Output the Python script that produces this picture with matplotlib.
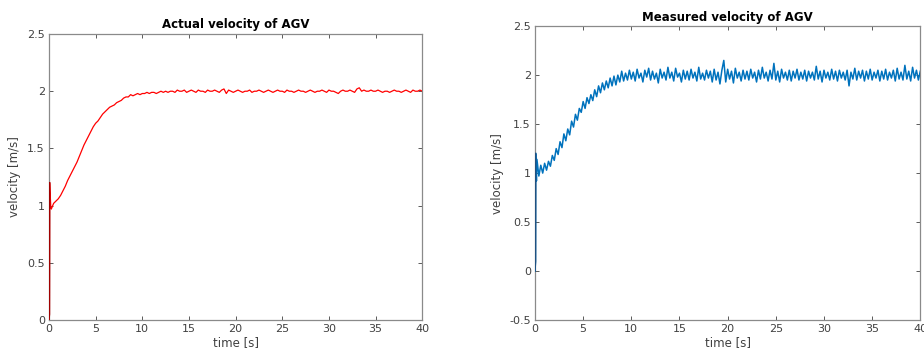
import numpy as np
import matplotlib.pyplot as plt
from matplotlib.ticker import FuncFormatter

# actual velocity (red) - start transient, then 0.25 s samples from 0.25 s to 40 s
act_t0 = [0.0, 0.05, 0.07, 0.12, 0.2]
act_v0 = [0.0, 0.05, 1.20, 1.12, 0.98]
act_dt = 0.25
act_v = [
    0.97, 1.02, 1.04, 1.06, 1.09, 1.13, 1.17, 1.22,
    1.26, 1.30, 1.34, 1.38, 1.43, 1.48, 1.53, 1.57,
    1.61, 1.65, 1.69, 1.72, 1.74, 1.77, 1.80, 1.82,
    1.84, 1.86, 1.87, 1.88, 1.90, 1.91, 1.92, 1.94,
    1.95, 1.95, 1.97, 1.96, 1.97, 1.98, 1.97, 1.98,
    1.98, 1.99, 1.98, 1.99, 1.99, 1.98, 1.99, 2.00,
    1.99, 2.00, 1.99, 2.00, 2.00, 1.99, 2.01, 2.00,
    2.00, 2.01, 1.99, 2.00, 2.01, 2.00, 1.99, 2.01,
    2.00, 2.00, 1.99, 2.01, 2.00, 2.00, 2.01, 2.00,
    1.99, 2.01, 2.02, 1.98, 2.01, 2.00, 1.99, 2.00,
    2.01, 2.00, 1.99, 2.00, 2.00, 2.01, 1.99, 2.00,
    2.00, 2.01, 2.00, 1.99, 2.00, 2.01, 2.00, 1.99,
    2.00, 2.01, 2.00, 2.00, 1.99, 2.01, 2.00, 2.00,
    1.99, 2.00, 2.01, 2.00, 2.00, 1.99, 2.00, 2.01,
    2.00, 1.99, 2.00, 2.00, 2.01, 2.00, 1.99, 2.01,
    2.00, 2.00, 1.99, 1.98, 2.00, 2.01, 2.00, 2.00,
    2.01, 2.00, 1.99, 2.02, 2.03, 2.00, 2.01, 2.00,
    2.00, 2.01, 2.00, 2.00, 2.01, 2.00, 1.99, 2.00,
    2.00, 1.99, 2.00, 2.01, 2.00, 2.00, 1.99, 2.00,
    2.01, 2.00, 1.99, 2.01, 2.00, 2.00, 2.01, 2.00,
]

# measured velocity (blue) - start transient, then 0.2 s samples from 0.2 s to 40 s
meas_t0 = [0.0, 0.05, 0.07, 0.10, 0.15]
meas_v0 = [0.0, 0.10, 1.20, 1.05, 0.92]
meas_dt = 0.2
meas_v = [
    1.14, 0.97, 1.08, 1.00, 1.10, 1.03, 1.12, 1.07, 1.18, 1.13,
    1.25, 1.19, 1.32, 1.26, 1.40, 1.33, 1.45, 1.39, 1.53, 1.47,
    1.60, 1.54, 1.66, 1.62, 1.73, 1.66, 1.77, 1.71, 1.80, 1.74,
    1.85, 1.78, 1.89, 1.82, 1.92, 1.85, 1.94, 1.87, 1.97, 1.89,
    1.99, 1.90, 2.00, 1.93, 2.04, 1.94, 2.02, 1.95, 2.05, 1.96,
    2.03, 1.94, 2.06, 1.97, 2.02, 1.93, 2.05, 1.98, 2.07, 1.95,
    2.04, 1.96, 2.02, 1.92, 2.06, 1.97, 2.03, 1.95, 2.08, 1.97,
    2.03, 1.94, 2.07, 1.98, 2.02, 1.93, 2.05, 1.96, 2.04, 1.95,
    2.06, 1.97, 2.03, 1.94, 2.08, 1.96, 2.02, 1.95, 2.05, 1.97,
    2.04, 1.93, 2.06, 1.95, 2.03, 1.91, 2.05, 2.15, 1.93, 2.06,
    1.96, 2.04, 1.92, 2.07, 1.97, 2.03, 1.94, 2.05, 1.96, 2.04,
    1.95, 2.06, 1.97, 2.03, 1.93, 2.05, 1.96, 2.08, 1.97, 2.03,
    1.94, 2.05, 1.96, 2.12, 1.95, 2.04, 1.93, 2.06, 1.97, 2.03,
    1.95, 2.05, 1.94, 2.04, 1.97, 2.06, 1.95, 2.03, 1.96, 2.05,
    1.94, 2.04, 1.97, 2.03, 1.95, 2.09, 1.96, 2.04, 1.93, 2.05,
    1.97, 2.03, 1.95, 2.06, 1.96, 2.04, 1.94, 2.05, 1.97, 2.03,
    1.95, 2.05, 1.89, 2.03, 1.96, 2.07, 1.95, 2.04, 1.97, 2.05,
    1.94, 2.04, 1.96, 2.06, 1.95, 2.03, 1.97, 2.05, 1.94, 2.04,
    1.96, 2.06, 1.95, 2.03, 1.97, 2.05, 1.94, 2.07, 1.96, 2.03,
    1.95, 2.10, 1.96, 2.04, 1.94, 2.08, 1.97, 2.05, 1.95, 2.04,
]

x_ticks = [0, 5, 10, 15, 20, 25, 30, 35, 40]
act_yticks = [0, 0.5, 1, 1.5, 2, 2.5]
meas_yticks = [-0.5, 0, 0.5, 1, 1.5, 2, 2.5]

act_t = np.concatenate([act_t0, act_dt * np.arange(1, len(act_v) + 1)])
act_y = np.concatenate([act_v0, act_v])
meas_t = np.concatenate([meas_t0, meas_dt * np.arange(1, len(meas_v) + 1)])
meas_y = np.concatenate([meas_v0, meas_v])

plt.rcParams['font.family'] = 'DejaVu Sans'
fig = plt.figure(figsize=(9.24, 3.58), dpi=100)
ax1 = fig.add_axes([0.053, 0.106, 0.404, 0.799])
ax2 = fig.add_axes([0.579, 0.106, 0.417, 0.821])

fmt = FuncFormatter(lambda v, p: f'{v:g}')
gray = '#404040'


def style(ax, yticks, title):
    ax.set_xlim(0, 40)
    ax.set_ylim(yticks[0], yticks[-1])
    ax.set_xticks(x_ticks)
    ax.set_yticks(yticks)
    ax.yaxis.set_major_formatter(fmt)
    ax.tick_params(direction='in', length=3, width=0.6, top=True, right=True,
                   labelsize=8, colors=gray, pad=3)
    for s in ax.spines.values():
        s.set_color('#8a8a8a')
        s.set_linewidth(0.9)
    ax.set_xlabel('time [s]', fontsize=8.5, color=gray, labelpad=1)
    ax.set_ylabel('velocity [m/s]', fontsize=8.5, color=gray, labelpad=4)
    ax.set_title(title, fontsize=8.5, fontweight='bold', pad=4)


ax1.plot(act_t, act_y, color='red', lw=0.9, zorder=3)
# the vertical start-up jump shows darker in the reference
ax1.plot(act_t[:3], act_y[:3], color='#a00000', lw=1.1, zorder=3)
style(ax1, act_yticks, 'Actual velocity of AGV')

ax2.plot(meas_t, meas_y, color='#0072BD', lw=1.1, zorder=3)
ax2.plot(meas_t[:3], meas_y[:3], color='#1f5080', lw=1.1, zorder=3)
style(ax2, meas_yticks, 'Measured velocity of AGV')

fig.savefig('out.png', dpi=100)
